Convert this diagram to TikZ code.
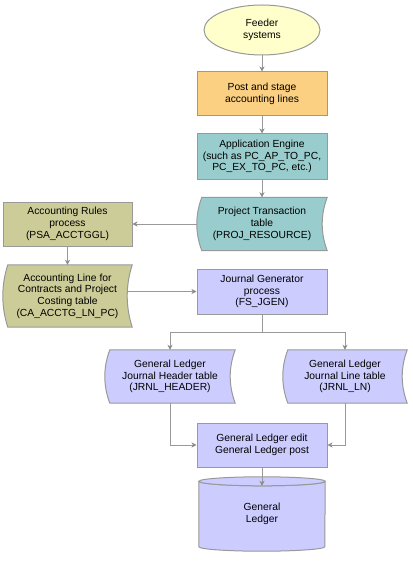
\documentclass[tikz,border=0pt]{standalone}
\usepackage{fontspec}
\setmainfont{Liberation Sans}
\usetikzlibrary{arrows.meta,calc,backgrounds,shapes.geometric}
\definecolor{edgegray}{HTML}{999999}
\definecolor{arrowgray}{HTML}{8C8C8C}
\definecolor{feederfill}{HTML}{FFFFCC}
\definecolor{orangefill}{HTML}{FBD083}
\definecolor{tealfill}{HTML}{99CCCC}
\definecolor{olivefill}{HTML}{CCCC99}
\definecolor{lavfill}{HTML}{CCCCFF}
\tikzset{
  lbl/.style={align=center, font=\fontsize{10.3}{11.7}\selectfont, inner sep=0pt},
  procbox/.style={lbl, rectangle, draw=edgegray, line width=1pt, minimum width=130pt, minimum height=44pt},
  holder/.style={lbl, rectangle, minimum width=#1},
  outline/.style={draw=edgegray, line width=1pt},
  conn/.style={draw=edgegray, line width=1pt, -{Stealth[length=5pt,width=5pt,inset=1.5pt,color=arrowgray]}},
  plainline/.style={draw=edgegray, line width=1pt}
}
\newcommand\storedoutline[2]{%
  \path[outline, fill=#2]
    ([xshift=5pt]#1.north west) -- (#1.north east)
    .. controls ($(#1.north east)!1/3!(#1.south east)+(-6.67pt,0)$) and ($(#1.north east)!2/3!(#1.south east)+(-6.67pt,0)$) .. (#1.south east)
    -- ([xshift=5pt]#1.south west)
    .. controls ($(#1.south west)!1/3!(#1.north west)+(-1.67pt,0)$) and ($(#1.south west)!2/3!(#1.north west)+(-1.67pt,0)$) .. ([xshift=5pt]#1.north west)
    -- cycle;}
\begin{document}
\begin{tikzpicture}[x=1pt,y=-1pt]
\useasboundingbox (0,0) rectangle (412,580);

% nodes
\node[lbl, ellipse, draw=edgegray, line width=1pt, fill=feederfill, minimum width=116pt, minimum height=50pt] (feed) at (262,30) {Feeder\\systems};
\node[procbox, fill=orangefill] (post) at (262,94) {Post and stage\\accounting lines};
\node[procbox, fill=tealfill, minimum height=45pt] (app) at (262,156.5) {Application Engine\\(such as PC\_AP\_TO\_PC,\\PC\_EX\_TO\_PC, etc.)};
\node[holder=130pt, minimum height=53pt] (pt) at (262,224) {Project Transaction\\table\\(PROJ\_RESOURCE)};
\node[procbox, fill=olivefill, minimum width=129pt] (rules) at (67.5,224) {Accounting Rules\\process\\(PSA\_ACCTGGL)};
\node[holder=129pt, minimum height=62pt] (acl) at (67.5,296) {Accounting Line for\\Contracts and Project\\Costing table\\(CA\_ACCTG\_LN\_PC)};
\node[procbox, fill=lavfill, minimum height=45pt] (jg) at (262,291.5) {Journal Generator\\process\\(FS\_JGEN)};
\node[holder=130pt, minimum height=53pt] (hdr) at (170,376.5) {General Ledger\\Journal Header table\\(JRNL\_HEADER)};
\node[holder=124pt, minimum height=53pt] (ln) at (345,376.5) {General Ledger\\Journal Line table\\(JRNL\_LN)};
\node[procbox, fill=lavfill] (gle) at (262,445) {General Ledger edit\\General Ledger post};
\node[holder=126pt, minimum height=56pt] (gl) at (262,514) {General\\Ledger};

% custom outlines behind text
\begin{scope}[on background layer]
  \storedoutline{pt}{tealfill}
  \storedoutline{acl}{olivefill}
  \storedoutline{hdr}{lavfill}
  \storedoutline{ln}{lavfill}
  \path[outline, fill=lavfill]
    ([yshift=4.5pt]gl.north west) -- ([yshift=-4.5pt]gl.south west)
    arc[start angle=180, end angle=360, x radius=63pt, y radius=4.5pt]
    -- ([yshift=4.5pt]gl.north east)
    arc[start angle=0, end angle=-180, x radius=63pt, y radius=4.5pt] -- cycle;
  \path[outline, fill=lavfill] ([yshift=4.5pt]gl.north) ellipse[x radius=63pt, y radius=4.5pt];
\end{scope}

% connectors
\draw[conn] (feed.south) -- (post.north);
\draw[conn] (post.south) -- (app.north);
\draw[conn] (app.south) -- (pt.north);
\draw[conn] (pt.west) -- (pt.west -| rules.east);
\draw[conn] (rules.south) -- (rules.south |- acl.north);
\draw[conn] ([xshift=-5pt]jg.west -| acl.east) -- (jg.west);
\draw[plainline] (jg.south) -- ++(0,18) coordinate (split);
\draw[conn] (split) -| (hdr.north);
\draw[conn] (split) -| (ln.north);
\draw[conn] (hdr.south) |- (gle.west);
\draw[conn] (ln.south) |- (gle.east);
\draw[conn] (gle.south) -- (gl.north);
\end{tikzpicture}
\end{document}
